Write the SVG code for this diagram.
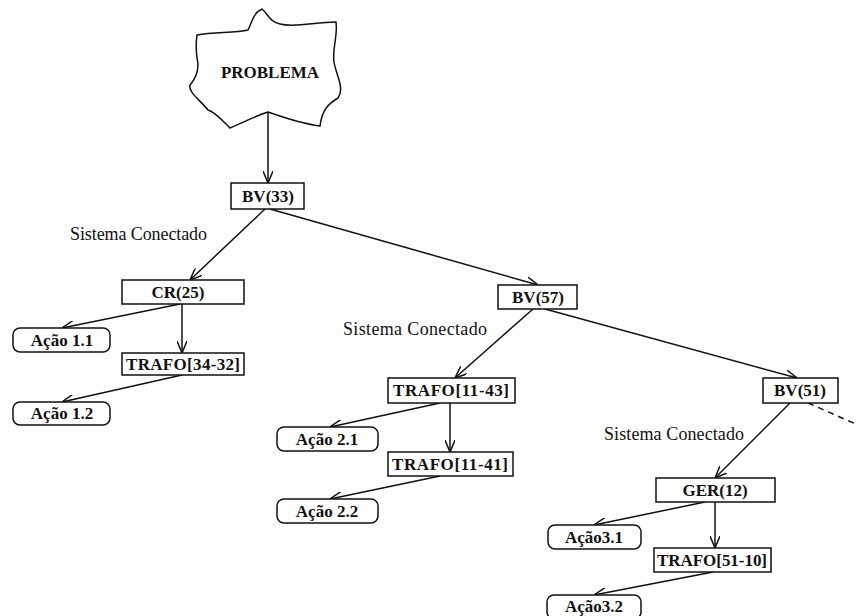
<svg xmlns="http://www.w3.org/2000/svg" width="868" height="616" viewBox="0 0 868 616">
<defs>
<style>
.box{fill:#fff;stroke:#111;stroke-width:1.5}
.lbl{font-family:"Liberation Serif","Times New Roman",serif;font-weight:bold;font-size:17px;fill:#111;text-anchor:middle}
.note{font-family:"Liberation Serif","Times New Roman",serif;font-size:18px;fill:#111}
.edge{fill:none;stroke:#111;stroke-width:1.5}
.dash{fill:none;stroke:#111;stroke-width:1.5;stroke-dasharray:6 5}
</style>
<marker id="arr" viewBox="0 0 12 10" refX="12" refY="5" markerWidth="12" markerHeight="10" markerUnits="userSpaceOnUse" orient="auto">
<path d="M0,0 L12,5 L0,10" fill="none" stroke="#111" stroke-width="1.5"/>
</marker>
</defs>
<rect width="868" height="616" fill="#fff"/>

<g id="problema">
<path class="box" d="M197,35 C215,32 235,33 248,30 C252,22 254,12 262,9 C268,14 270,22 280,24 C295,28 315,22 336,22 C338,35 332,50 334,62 C336,75 345,88 338,98 C328,104 322,110 320,126 C305,124 285,118 268,112 C255,116 240,124 230,128 C222,120 215,112 208,110 C200,100 188,92 190,85 C196,78 200,70 197,58 C196,50 196,42 197,35 Z"/>
<text class="lbl" x="270" y="78">PROBLEMA</text>
</g>

<g id="connectors">
<line class="edge" x1="268" y1="112" x2="268" y2="183" marker-end="url(#arr)"/>
<line class="edge" x1="265" y1="209" x2="190" y2="280" marker-end="url(#arr)"/>
<line class="edge" x1="270" y1="209" x2="538" y2="285" marker-end="url(#arr)"/>
<line class="edge" x1="180" y1="304" x2="62" y2="328" marker-end="url(#arr)"/>
<line class="edge" x1="182" y1="304" x2="182" y2="353" marker-end="url(#arr)"/>
<line class="edge" x1="182" y1="375" x2="62" y2="402" marker-end="url(#arr)"/>
<line class="edge" x1="533" y1="309" x2="455" y2="378" marker-end="url(#arr)"/>
<line class="edge" x1="545" y1="309" x2="797" y2="378" marker-end="url(#arr)"/>
<line class="edge" x1="440" y1="403" x2="330" y2="427" marker-end="url(#arr)"/>
<line class="edge" x1="450" y1="403" x2="450" y2="452" marker-end="url(#arr)"/>
<line class="edge" x1="440" y1="476" x2="330" y2="499" marker-end="url(#arr)"/>
<line class="edge" x1="790" y1="403" x2="715" y2="478" marker-end="url(#arr)"/>
<line class="edge" x1="705" y1="502" x2="594" y2="525" marker-end="url(#arr)"/>
<line class="edge" x1="715" y1="502" x2="715" y2="548" marker-end="url(#arr)"/>
<line class="edge" x1="713" y1="572" x2="594" y2="595" marker-end="url(#arr)"/>
<line class="dash" x1="808" y1="403" x2="858" y2="425"/>
</g>

<g id="bv33"><rect class="box" x="231" y="183" width="73" height="26"/><text class="lbl" x="268" y="202">BV(33)</text></g>
<g id="cr25"><rect class="box" x="122" y="280" width="122" height="24"/><text class="lbl" x="178" y="298">CR(25)</text></g>
<g id="acao11"><rect class="box" x="13" y="328" width="97" height="24" rx="7"/><text class="lbl" x="62" y="346">Ação 1.1</text></g>
<g id="trafo3432"><rect class="box" x="122" y="353" width="122" height="22"/><text class="lbl" x="183" y="370" textLength="114">TRAFO[34-32]</text></g>
<g id="acao12"><rect class="box" x="13" y="402" width="97" height="23" rx="7"/><text class="lbl" x="62" y="419">Ação 1.2</text></g>

<g id="bv57"><rect class="box" x="498" y="285" width="79" height="24"/><text class="lbl" x="538" y="303">BV(57)</text></g>
<g id="trafo1143"><rect class="box" x="388" y="378" width="127" height="25"/><text class="lbl" x="451" y="396" textLength="116">TRAFO[11-43]</text></g>
<g id="acao21"><rect class="box" x="277" y="427" width="101" height="24" rx="7"/><text class="lbl" x="327" y="445">Ação 2.1</text></g>
<g id="trafo1141"><rect class="box" x="388" y="452" width="125" height="24"/><text class="lbl" x="450" y="470" textLength="116">TRAFO[11-41]</text></g>
<g id="acao22"><rect class="box" x="277" y="499" width="101" height="24" rx="7"/><text class="lbl" x="327" y="517">Ação 2.2</text></g>

<g id="bv51"><rect class="box" x="763" y="378" width="75" height="25"/><text class="lbl" x="800" y="396">BV(51)</text></g>
<g id="ger12"><rect class="box" x="656" y="478" width="119" height="24"/><text class="lbl" x="715" y="496">GER(12)</text></g>
<g id="acao31"><rect class="box" x="548" y="525" width="93" height="24" rx="7"/><text class="lbl" x="594" y="543">Ação3.1</text></g>
<g id="trafo5110"><rect class="box" x="654" y="548" width="117" height="24"/><text class="lbl" x="712" y="566" textLength="110">TRAFO[51-10]</text></g>
<g id="acao32"><rect class="box" x="547" y="595" width="94" height="24" rx="7"/><text class="lbl" x="594" y="612">Ação3.2</text></g>

<g id="notes">
<text class="note" x="70" y="240" textLength="137">Sistema Conectado</text>
<text class="note" x="343" y="335" textLength="144">Sistema Conectado</text>
<text class="note" x="604" y="440" textLength="140">Sistema Conectado</text>
</g>
</svg>
